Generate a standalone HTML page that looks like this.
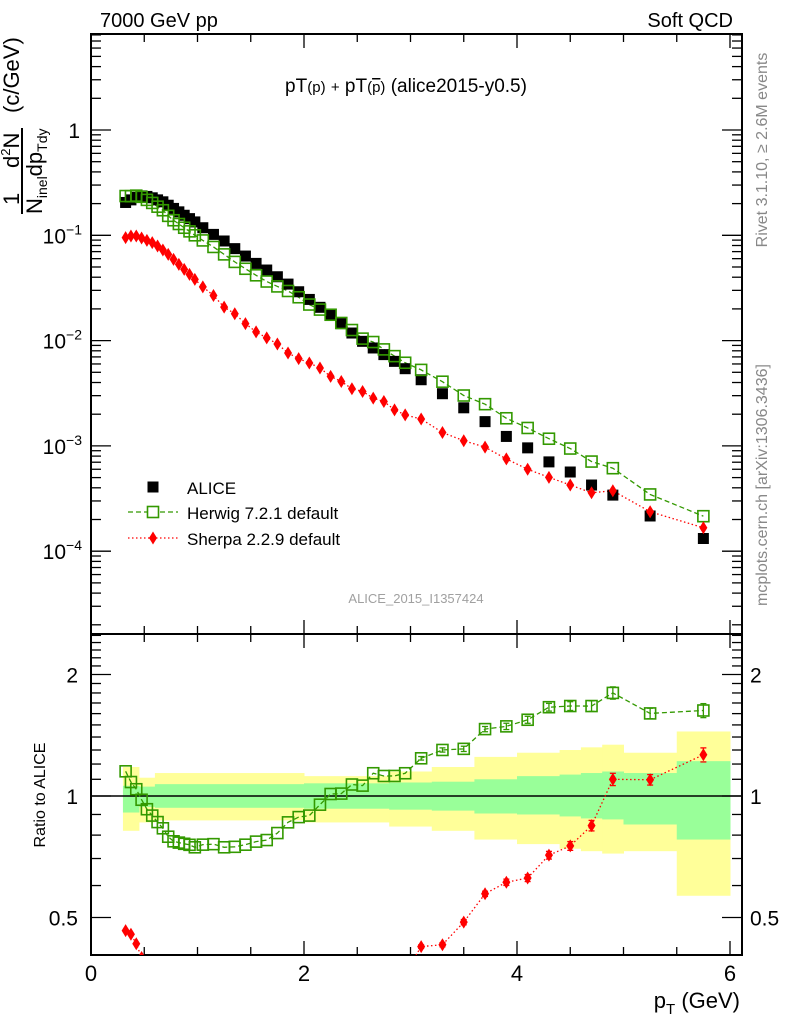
<!DOCTYPE html>
<html><head><meta charset="utf-8"><style>
body{margin:0;background:#fff}
svg{display:block;font-family:"Liberation Sans",sans-serif}
</style></head><body>
<svg id="c" width="786" height="1024" viewBox="0 0 786 1024" xmlns="http://www.w3.org/2000/svg"></svg>
<script>
const xCenters=[0.325,0.375,0.425,0.475,0.525,0.575,0.625,0.675,0.725,0.775,0.825,0.875,0.925,0.975,1.05,1.15,1.25,1.35,1.45,1.55,1.65,1.75,1.85,1.95,2.05,2.15,2.25,2.35,2.45,2.55,2.65,2.75,2.85,2.95,3.1,3.3,3.5,3.7,3.9,4.1,4.3,4.5,4.7,4.9,5.25,5.75];
const aliceVals=[0.205,0.217,0.229,0.237,0.234,0.227,0.217,0.208,0.193,0.180,0.167,0.155,0.144,0.134,0.118,0.102,0.0883,0.0747,0.0635,0.0541,0.0468,0.0404,0.0344,0.0291,0.0246,0.0207,0.0174,0.0145,0.0118,0.00984,0.00851,0.00736,0.00635,0.00541,0.00425,0.00313,0.00230,0.00170,0.00123,0.000958,0.000705,0.000565,0.000425,0.000341,0.000216,0.000132];
const herwigVals=[0.236,0.235,0.238,0.232,0.217,0.203,0.187,0.173,0.153,0.139,0.128,0.118,0.109,0.100,0.0894,0.0775,0.0659,0.0559,0.0481,0.0417,0.0364,0.0327,0.0296,0.0258,0.0220,0.0197,0.0176,0.0147,0.0126,0.01044,0.00969,0.00825,0.00712,0.00616,0.00527,0.00407,0.00301,0.00249,0.00183,0.00148,0.00117,0.000944,0.000710,0.000614,0.000346,0.000215];
const sherpaVals=[0.0951,0.0986,0.0986,0.0943,0.0896,0.0852,0.0791,0.0725,0.0659,0.0591,0.0529,0.0475,0.0425,0.0381,0.0324,0.0268,0.0208,0.0180,0.0145,0.0121,0.0106,0.00929,0.00763,0.00674,0.00613,0.00549,0.00457,0.00409,0.00349,0.00329,0.00284,0.00264,0.00220,0.00197,0.00180,0.00134,0.00112,0.000973,0.000752,0.000600,0.000503,0.000425,0.000359,0.000375,0.000237,0.000167];
const modelRelErr=[0,0,0,0,0,0,0,0,0,0,0,0,0,0,0,0,0,0,0,0,0,0,0,0,0,0,0,0,0,0,0,0,0,0,0.01,0.012,0.015,0.015,0.018,0.02,0.022,0.025,0.03,0.035,0.03,0.04];
const bandEdges=[0.3,0.45,0.6,2.0,2.8,3.2,3.6,4.0,4.4,4.6,4.8,5.0,5.5,6.0];
const bandTotHi=[1.18,1.11,1.14,1.12,1.15,1.18,1.25,1.28,1.30,1.32,1.34,1.28,1.445];
const bandTotLo=[0.82,0.86,0.87,0.86,0.84,0.82,0.78,0.76,0.74,0.73,0.72,0.73,0.566];
const bandStatHi=[1.06,1.055,1.07,1.075,1.08,1.085,1.10,1.12,1.13,1.14,1.15,1.14,1.22];
const bandStatLo=[0.91,0.94,0.935,0.93,0.925,0.92,0.905,0.9,0.89,0.88,0.875,0.85,0.78];
const xTickLabels=["0","2","4","6"];
const yTickExps=[0,-1,-2,-3,-4];
const ratioTickLabels=["0.5","1","2"];

const S="http://www.w3.org/2000/svg", svg=document.getElementById('c');
const L=91,R=742,T=34,MB=634,RB=955;
const X=v=>L+v*106.5;
const Y=v=>130-Math.log10(v)*105.3;
const RY=v=>796-Math.log2(v)*121.5;
function el(t,a,p){const e=document.createElementNS(S,t);for(const k in a)e.setAttribute(k,a[k]);(p||svg).appendChild(e);return e;}
function tx(x,y,s,fs,anchor,fill,p){const e=el('text',{x:x,y:y,'font-size':fs,'text-anchor':anchor||'start',fill:fill||'#000'},p);e.textContent=s;return e;}

const defs=el('defs',{});
const c1=el('clipPath',{id:'cm'},defs);el('rect',{x:L,y:T,width:R-L,height:MB-T},c1);
const c2=el('clipPath',{id:'cr'},defs);el('rect',{x:L,y:MB,width:R-L,height:RB-MB},c2);

const gBand=el('g',{'clip-path':'url(#cr)'});


for(let i=0;i<bandTotHi.length;i++){
  const r=el('rect',{x:X(bandEdges[i]),width:X(bandEdges[i+1])-X(bandEdges[i])+0.5,y:RY(bandTotHi[i]),height:RY(bandTotLo[i])-RY(bandTotHi[i]),fill:'#ffff99'},gBand);
  
  
}
for(let i=0;i<bandStatHi.length;i++){
  const r=el('rect',{x:X(bandEdges[i]),width:X(bandEdges[i+1])-X(bandEdges[i])+0.5,y:RY(bandStatHi[i]),height:RY(bandStatLo[i])-RY(bandStatHi[i]),fill:'#99ff99'},gBand);
  
  
}
el('line',{x1:L,x2:R,y1:RY(1),y2:RY(1),stroke:'#000','stroke-width':1.5});

const fm=el('rect',{x:L,y:T,width:R-L,height:MB-T,fill:'none',stroke:'#000','stroke-width':2});

const fr=el('rect',{x:L,y:MB,width:R-L,height:RB-MB,fill:'none',stroke:'#000','stroke-width':2});


for(let v=0;v<=6.1;v+=0.5){
  const major=Math.abs(v%2)<1e-6, len=major?14:8;
  [[T,1],[MB,-1],[MB,1],[RB,-1]].forEach(([y0,d])=>el('line',{x1:X(v),x2:X(v),y1:y0,y2:y0+d*len,stroke:'#000','stroke-width':1.3}));
}
xTickLabels.forEach((s,i)=>{const t=tx(X(i*2),981,s,22,'middle');});
for(let e=1;e>=-5;e--){
  for(let m=1;m<10;m++){
    const val=m*Math.pow(10,e);
    const y=Y(val); if(y<T||y>MB) continue;
    const len=m===1?20:10;
    el('line',{x1:L,x2:L+len,y1:y,y2:y,stroke:'#000','stroke-width':1.3});
    el('line',{x1:R,x2:R-len,y1:y,y2:y,stroke:'#000','stroke-width':1.3});
  }
}
yTickExps.forEach(e=>{
  const y=Y(Math.pow(10,e))+8;
  if(e===0){const t=tx(80,y,'1',21,'end');}
  else{const t=el('text',{x:82,y:y,'font-size':21,'text-anchor':'end'});
    const a=el('tspan',{},t);a.textContent='10';const b=el('tspan',{dy:-9,'font-size':14},t);b.textContent='\u2212'+(-e);}
});
for(let k=4;k<=25;k++){
  const v=k/10,y=RY(v);if(y<MB||y>RB)continue;
  const major=(k===5||k===10||k===20),len=major?20:10;
  el('line',{x1:L,x2:L+len,y1:y,y2:y,stroke:'#000','stroke-width':1.3});
  el('line',{x1:R,x2:R-len,y1:y,y2:y,stroke:'#000','stroke-width':1.3});
}
ratioTickLabels.forEach(s=>{const y=RY(parseFloat(s))+8;
  const a=tx(78,y,s,21,'end');
  const b=tx(750,y,s,21,'start');});

const gm=el('g',{'clip-path':'url(#cm)'});

const herPath=xCenters.map((x,i)=>(i?'L':'M')+X(x)+','+Y(herwigVals[i])).join('');
const hl=el('path',{d:herPath,fill:'none',stroke:'#339900','stroke-width':1.3,'stroke-dasharray':'5,3'},gm);

const shPath=xCenters.map((x,i)=>(i?'L':'M')+X(x)+','+Y(sherpaVals[i])).join('');
const sl=el('path',{d:shPath,fill:'none',stroke:'#ff0000','stroke-width':1.3,'stroke-dasharray':'1.5,2.5'},gm);

function sq(x,y,p,filled){const r=el('rect',{x:x-5.5,y:y-5.5,width:11,height:11,fill:filled?'#000':'none',stroke:filled?'none':'#339900','stroke-width':1.6},p);return r;}
function dia(x,y,p){return el('path',{d:`M${x},${y-6.5}L${x+4},${y}L${x},${y+6.5}L${x-4},${y}Z`,fill:'#ff0000'},p);}
xCenters.forEach((x,i)=>{
  const a=sq(X(x),Y(aliceVals[i]),gm,true);
});
xCenters.forEach((x,i)=>{
  const h=sq(X(x),Y(herwigVals[i]),gm,false);
  const s=dia(X(x),Y(sherpaVals[i]),gm);
});

const gr=el('g',{'clip-path':'url(#cr)'});

const hr=xCenters.map((x,i)=>herwigVals[i]/aliceVals[i]);
const sr=xCenters.map((x,i)=>sherpaVals[i]/aliceVals[i]);
const hrl=el('path',{d:xCenters.map((x,i)=>(i?'L':'M')+X(x)+','+RY(hr[i])).join(''),fill:'none',stroke:'#339900','stroke-width':1.3,'stroke-dasharray':'5,3'},gr);

const srl=el('path',{d:xCenters.map((x,i)=>(i?'L':'M')+X(x)+','+RY(sr[i])).join(''),fill:'none',stroke:'#ff0000','stroke-width':1.3,'stroke-dasharray':'1.5,2.5'},gr);

xCenters.forEach((x,i)=>{
  const px=X(x);
  if(modelRelErr[i]>0){
    const e=modelRelErr[i];
    [[hr[i],'#339900',''],[sr[i],'#ff0000','1.5,2']].forEach(([v,c,da])=>{
      const y1=RY(v*(1+e)),y2=RY(v*(1-e));
      el('line',{x1:px,x2:px,y1:y1,y2:y2,stroke:c,'stroke-width':1.3,'stroke-dasharray':da},gr);
      el('line',{x1:px-3,x2:px+3,y1:y1,y2:y1,stroke:c,'stroke-width':1.3},gr);
      el('line',{x1:px-3,x2:px+3,y1:y2,y2:y2,stroke:c,'stroke-width':1.3},gr);
    });
  }
  const h=sq(px,RY(hr[i]),gr,false);
  const s=dia(px,RY(sr[i]),gr);
});

const lg=el('g',{});

sq(153,487,lg,true);tx(187,494,'ALICE',17,'start','#000',lg);
el('line',{x1:128,x2:178,y1:512,y2:512,stroke:'#339900','stroke-width':1.3,'stroke-dasharray':'5,3'},lg);
const lh=sq(153,512,lg,false);lh.setAttribute('fill','#fff');
tx(187,519,'Herwig 7.2.1 default',17,'start','#000',lg);
el('line',{x1:128,x2:178,y1:538,y2:538,stroke:'#ff0000','stroke-width':1.3,'stroke-dasharray':'1.5,2.5'},lg);
dia(153,538,lg);tx(187,545,'Sherpa 2.2.9 default',17,'start','#000',lg);
</script>
<svg width="786" height="1024" style="position:absolute;left:0;top:0" xmlns="http://www.w3.org/2000/svg" font-family="Liberation Sans, sans-serif">
<text x="100" y="27" font-size="20">7000 GeV pp</text>
<text x="733" y="27" font-size="20" text-anchor="end">Soft QCD</text>
<text x="406" y="92" font-size="19" text-anchor="middle">pT<tspan font-size="15">(p)</tspan> <tspan font-size="15">+</tspan> pT<tspan font-size="15">(<tspan text-decoration="overline">p</tspan>)</tspan> (alice2015-y0.5)</text>
<text x="416" y="603" font-size="13" fill="#a0a0a0" text-anchor="middle">ALICE_2015_I1357424</text>
<text transform="translate(767,150) rotate(-90)" font-size="16" fill="#888" text-anchor="middle">Rivet 3.1.10, ≥ 2.6M events</text>
<text transform="translate(767,485) rotate(-90)" font-size="16" fill="#888" text-anchor="middle">mcplots.cern.ch [arXiv:1306.3436]</text>
<text transform="translate(45,795) rotate(-90)" font-size="16" text-anchor="middle">Ratio to ALICE</text>
<text x="740" y="1008" font-size="22" text-anchor="end">p<tspan font-size="15" dy="6">T</tspan><tspan dy="-6"> (GeV)</tspan></text>
<g>
<text transform="translate(19,205) rotate(-90)" font-size="22">1</text>
<text transform="translate(19,168) rotate(-90)" font-size="22">d<tspan font-size="13" dy="-9">2</tspan><tspan dy="9">N</tspan></text>
<line x1="22" y1="128" x2="22" y2="214" stroke="#000" stroke-width="2"/>
<text transform="translate(42,214) rotate(-90)" font-size="22">N<tspan font-size="14" dy="5">inel</tspan><tspan dy="-5">dp</tspan><tspan font-size="14" dy="5">Tdy</tspan></text>
<text transform="translate(19,113) rotate(-90)" font-size="22">(c/GeV)</text>
</g>
</svg>
</body></html>
